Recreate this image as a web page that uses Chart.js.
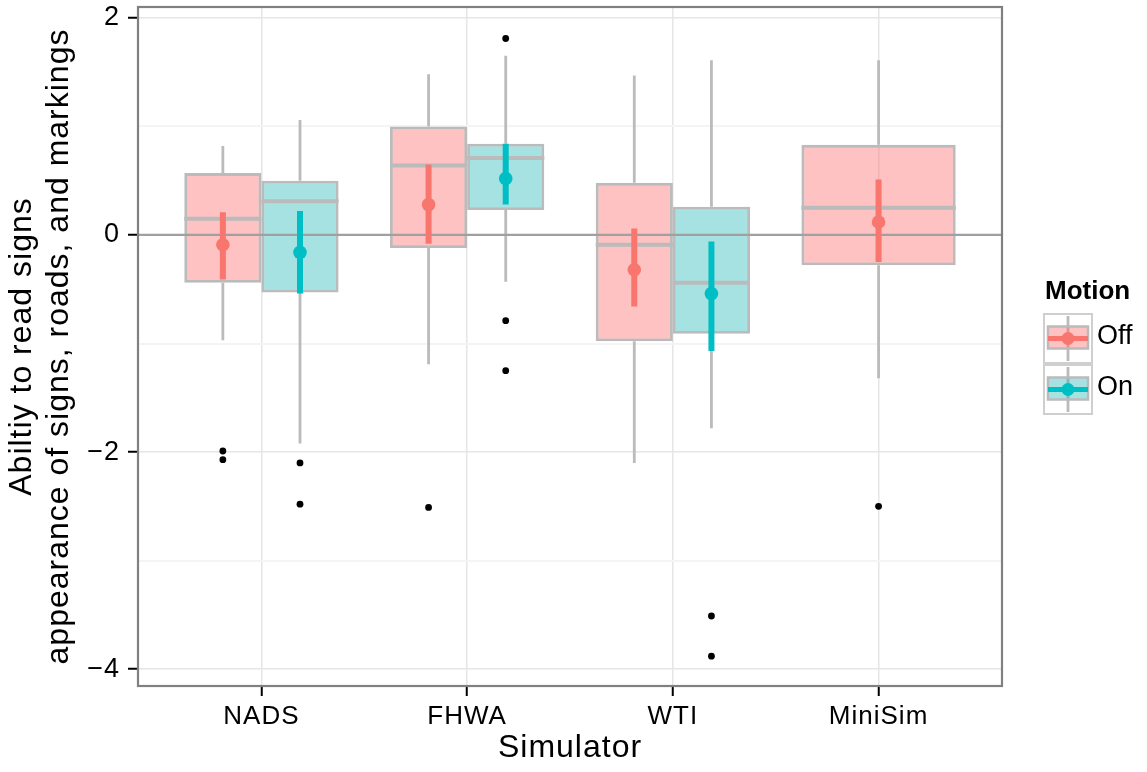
<!DOCTYPE html>
<html>
<head>
<meta charset="utf-8">
<script src="https://cdn.jsdelivr.net/npm/chart.js@4.4.1/dist/chart.umd.min.js"></script>
<style>
  html, body { margin: 0; padding: 0; background: #fff; }
  #wrap { width: 1147px; height: 772px; }
</style>
</head>
<body>
<div id="wrap"><canvas id="chart" width="1147" height="772"></canvas></div>
<script>
// Boxplots of the sign/road reading score by simulator, split by motion,
// with the mean and its interval drawn on top of each box.
const simulators = ['NADS', 'FHWA', 'WTI', 'MiniSim'];
const motionLevels = ['Off', 'On'];
const motionColors = ['#F8766D', '#00BFC4'];
const boxFills = ['rgba(250,103,100,0.4)', 'rgba(35,182,185,0.4)'];

// Motion off
const offLower = [-0.97, -1.19, -2.10, -1.32];
const offQ1 = [-0.44, -0.12, -0.98, -0.28];
const offMedian = [0.15, 0.64, -0.09, 0.25];
const offQ3 = [0.57, 1.00, 0.48, 0.83];
const offUpper = [0.82, 1.48, 1.47, 1.61];
const offOutliers = [[-1.99, -2.07], [-2.51], [], [-2.50]];
const offMean = [-0.09, 0.28, -0.32, 0.12];
const offMeanLo = [-0.41, -0.08, -0.66, -0.25];
const offMeanHi = [0.21, 0.65, 0.06, 0.51];

// Motion on (no MiniSim runs)
const onLower = [-1.92, -0.43, -1.78, null];
const onQ1 = [-0.53, 0.23, -0.91, null];
const onMedian = [0.31, 0.71, -0.44, null];
const onQ3 = [0.50, 0.84, 0.26, null];
const onUpper = [1.06, 1.65, 1.61, null];
const onOutliers = [[-2.10, -2.48], [1.81, -0.79, -1.25], [-3.51, -3.88], []];
const onMean = [-0.16, 0.52, -0.54, null];
const onMeanLo = [-0.54, 0.28, -1.07, null];
const onMeanHi = [0.22, 0.84, -0.06, null];

const yMajorTicks = [-4, -2, 0, 2];
const yMinorTicks = [-3, -1, 1];
const yMin = -4.155, yMax = 2.1;
const xMin = 0.4, xMax = 4.6;

const groups = [
  { lower: offLower, q1: offQ1, median: offMedian, q3: offQ3, upper: offUpper,
    outliers: offOutliers, mean: offMean, meanLo: offMeanLo, meanHi: offMeanHi },
  { lower: onLower, q1: onQ1, median: onMedian, q3: onQ3, upper: onUpper,
    outliers: onOutliers, mean: onMean, meanLo: onMeanLo, meanHi: onMeanHi }
];

const DODGE = 0.75;
const BOX_EDGE = '#bbbbbb';
const FONT = "'Liberation Sans', Arial, Helvetica, sans-serif";

// dodge position of group k inside simulator i (only groups that have data share the slot)
function slot(i, k) {
  const ks = groups.map((g, j) => (g.q1[i] == null ? -1 : j)).filter(j => j >= 0);
  const w = DODGE / ks.length;
  return { center: i + 1 - DODGE / 2 + w * (ks.indexOf(k) + 0.5), half: w / 2 };
}

const GAP = { x: null, y: null };
const datasets = [];

groups.forEach((g, k) => {
  const idx = simulators.map((s, i) => i).filter(i => g.q1[i] != null);

  datasets.push({
    type: 'bar', label: motionLevels[k],
    data: simulators.map((s, i) => ({ x: i + 1, y: g.q1[i] == null ? null : [g.q1[i], g.q3[i]] })),
    backgroundColor: boxFills[k], borderColor: BOX_EDGE, borderWidth: 2.8,
    borderSkipped: false, categoryPercentage: DODGE, barPercentage: 1,
    skipNull: true, order: 6
  });

  datasets.push({
    type: 'line', label: 'whiskers ' + motionLevels[k],
    data: idx.flatMap(i => {
      const c = slot(i, k).center;
      return [{ x: c, y: g.lower[i] }, { x: c, y: g.q1[i] }, GAP,
              { x: c, y: g.q3[i] }, { x: c, y: g.upper[i] }, GAP];
    }),
    borderColor: BOX_EDGE, borderWidth: 2.8, pointRadius: 0, spanGaps: false, order: 7
  });

  datasets.push({
    type: 'line', label: 'median ' + motionLevels[k],
    data: idx.flatMap(i => {
      const s = slot(i, k);
      return [{ x: s.center - s.half, y: g.median[i] }, { x: s.center + s.half, y: g.median[i] }, GAP];
    }),
    borderColor: BOX_EDGE, borderWidth: 4, pointRadius: 0, spanGaps: false, order: 5
  });

  datasets.push({
    type: 'scatter', label: 'outliers ' + motionLevels[k],
    data: idx.flatMap(i => g.outliers[i].map(v => ({ x: slot(i, k).center, y: v }))),
    backgroundColor: '#000', borderWidth: 0, pointRadius: 3.4, order: 3
  });

  datasets.push({
    type: 'line', label: 'interval ' + motionLevels[k],
    data: idx.flatMap(i => {
      const c = slot(i, k).center;
      return [{ x: c, y: g.meanLo[i] }, { x: c, y: g.meanHi[i] }, GAP];
    }),
    borderColor: motionColors[k], borderWidth: 6, pointRadius: 0, spanGaps: false, order: 2
  });

  datasets.push({
    type: 'scatter', label: 'mean ' + motionLevels[k],
    data: idx.map(i => ({ x: slot(i, k).center, y: g.mean[i] })),
    backgroundColor: motionColors[k], borderWidth: 0, pointRadius: 6.8, order: 1
  });
});

// reference line at zero, drawn over the boxes
datasets.push({
  type: 'line', label: 'zero',
  data: [{ x: xMin, y: 0 }, { x: xMax, y: 0 }],
  borderColor: '#a0a0a0', borderWidth: 2.2, pointRadius: 0, order: 4
});

// slightly looser lettering for the axis texts
const textSpacing = {
  id: 'textSpacing',
  beforeDraw(chart) { chart.ctx.letterSpacing = '1px'; }
};

const panelBorder = {
  id: 'panelBorder',
  afterDatasetsDraw(chart) {
    const { ctx, chartArea: a } = chart;
    ctx.save();
    ctx.strokeStyle = '#808080';
    ctx.lineWidth = 2.2;
    ctx.strokeRect(a.left, a.top, a.right - a.left, a.bottom - a.top);
    ctx.restore();
  }
};

// ggplot-style legend: a small box glyph with the mean point range across it
const motionLegend = {
  id: 'motionLegend',
  afterDraw(chart) {
    const { ctx, chartArea: a } = chart;
    const x0 = a.right + 41, w = 50, h = 51, top = 313;
    ctx.save();
    ctx.letterSpacing = '0px';
    ctx.fillStyle = '#000';
    ctx.textBaseline = 'middle';
    ctx.textAlign = 'left';
    ctx.font = 'bold 26px ' + FONT;
    ctx.fillText('Motion', x0 + 2, 292);
    motionLevels.forEach((lab, k) => {
      const y = top + k * h;
      const cx = x0 + w / 2, cy = y + h / 2;
      ctx.fillStyle = '#fff';
      ctx.fillRect(x0, y, w, h);
      ctx.strokeStyle = '#cfcfcf';
      ctx.lineWidth = 2;
      ctx.strokeRect(x0 + 1, y + 1, w - 2, h - 2);
      ctx.strokeStyle = BOX_EDGE;
      ctx.lineWidth = 2.8;
      ctx.beginPath(); ctx.moveTo(cx, y + 3); ctx.lineTo(cx, y + h - 3); ctx.stroke();
      ctx.fillStyle = boxFills[k];
      ctx.fillRect(x0 + 5, cy - 12, w - 10, 22);
      ctx.lineWidth = 2.5;
      ctx.strokeRect(x0 + 5, cy - 12, w - 10, 22);
      ctx.strokeStyle = motionColors[k];
      ctx.lineWidth = 5;
      ctx.beginPath(); ctx.moveTo(x0 + 5, cy); ctx.lineTo(x0 + w - 5, cy); ctx.stroke();
      ctx.fillStyle = motionColors[k];
      ctx.beginPath(); ctx.arc(cx, cy, 6.5, 0, Math.PI * 2); ctx.fill();
      ctx.fillStyle = '#000';
      ctx.font = '27px ' + FONT;
      ctx.fillText(lab, x0 + 54, cy - 2);
    });
    ctx.restore();
  }
};

const yTickValues = yMajorTicks.concat(yMinorTicks).sort((a, b) => a - b);
const isMajor = v => yMajorTicks.includes(v);

new Chart(document.getElementById('chart'), {
  type: 'bar',
  data: { datasets },
  options: {
    responsive: false,
    animation: false,
    layout: { padding: { left: 0, right: 145, top: 7, bottom: 0 } },
    plugins: {
      legend: { display: false },
      tooltip: { enabled: false }
    },
    scales: {
      x: {
        type: 'linear', min: xMin, max: xMax, offset: false,
        afterBuildTicks: s => { s.ticks = simulators.map((n, i) => ({ value: i + 1 })); },
        afterFit: s => { s.height = 86; s.paddingLeft = 0; s.paddingRight = 0; },
        grid: { offset: false, color: '#e6e6e6', lineWidth: 1.5,
                tickColor: '#000', tickWidth: 2, tickLength: 10 },
        border: { display: false },
        ticks: { color: '#000', font: { family: FONT, size: 26 }, padding: 5,
                 maxRotation: 0, autoSkip: false,
                 callback: v => simulators[Math.round(v) - 1] },
        title: { display: true, text: 'Simulator', color: '#000',
                 font: { family: FONT, size: 32 }, padding: { top: 0, bottom: 5 } }
      },
      y: {
        type: 'linear', min: yMin, max: yMax,
        afterBuildTicks: s => { s.ticks = yTickValues.map(v => ({ value: v })); },
        afterFit: s => { s.width = 138; s.paddingTop = 0; s.paddingBottom = 0; },
        grid: {
          color: c => (isMajor(c.tick.value) ? '#e6e6e6' : '#f4f4f4'),
          lineWidth: c => (isMajor(c.tick.value) ? 1.5 : 2),
          tickColor: c => (isMajor(c.tick.value) ? '#000' : 'rgba(0,0,0,0)'),
          tickWidth: 2, tickLength: 10
        },
        border: { display: false },
        ticks: { color: '#000', font: { family: FONT, size: 27 }, padding: 8, autoSkip: false,
                 callback: v => (isMajor(v) ? (v < 0 ? '\u2212' + Math.abs(v) : String(v)) : '') },
        title: { display: true,
                 text: ['Abiltiy to read signs', 'appearance of signs, roads, and markings'],
                 color: '#000', font: { family: FONT, size: 32, lineHeight: 1.15 },
                 padding: { top: 4, bottom: 0 } }
      }
    }
  },
  plugins: [textSpacing, panelBorder, motionLegend]
});
</script>
</body>
</html>
